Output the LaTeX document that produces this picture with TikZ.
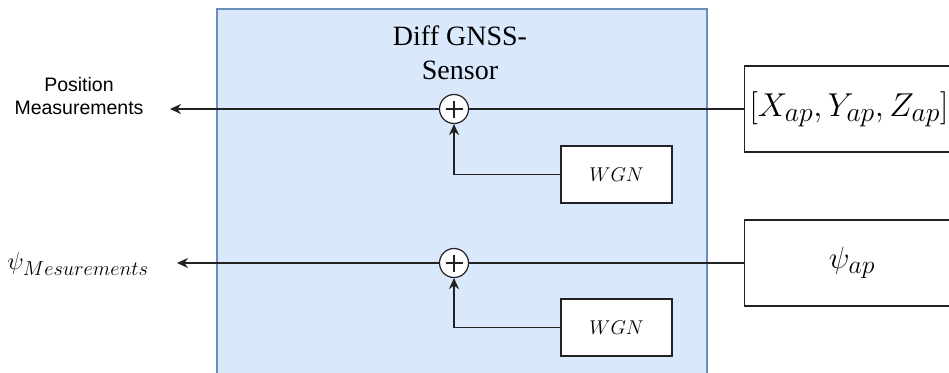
\documentclass[tikz,border=0pt]{standalone}
\usepackage{fontspec}
\setmainfont{Liberation Serif}
\newfontfamily\labelsans{Liberation Sans}
\usetikzlibrary{arrows.meta}
\definecolor{sensorfill}{HTML}{DAE8FC}
\definecolor{sensordraw}{HTML}{6C8EBF}
\definecolor{wire}{HTML}{222222}
\tikzset{
  wirestyle/.style={draw=wire, line width=1.2pt},
  sig/.style={wirestyle, -{Stealth[length=11pt,width=10pt,inset=3.5pt]}},
  blockbox/.style={draw=wire, line width=1.2pt, fill=white, inner sep=0pt},
  sumnode/.style={circle, draw=wire, line width=1.2pt, fill=white, minimum size=29pt, inner sep=0pt},
  bigmath/.style={font=\fontsize{24.88}{30}\selectfont},
}
\begin{document}
\begin{tikzpicture}[x=1pt,y=-1pt]
\useasboundingbox (0,0) rectangle (949,372);
% sensor enclosure
\fill[sensorfill, draw=sensordraw, line width=1.2pt] (217,9) rectangle (707,385);
\node[align=center, font=\fontsize{28}{34}\selectfont] (title) at (460,53) {Diff GNSS-\\Sensor};

% source blocks on the right
\node[blockbox, minimum width=220pt, minimum height=86pt, anchor=west] (pos) at (744,109) {};
\node[bigmath, scale=1.33] (poslbl) at (849,109) {$[X_{ap},Y_{ap},Z_{ap}]$};
\node[blockbox, minimum width=220pt, minimum height=86pt, anchor=west] (psi) at (744,263) {};
\node[bigmath, scale=1.24] (psilbl) at (852,263) {$\psi_{ap}$};

% summing junctions
\node[sumnode] (sum1) at (454,109) {};
\draw[wirestyle] (sum1.center) ++(-8.5,0) -- ++(17,0) (sum1.center) ++(0,-8.5) -- ++(0,17);
\node[sumnode] (sum2) at (454,263) {};
\draw[wirestyle] (sum2.center) ++(-8.5,0) -- ++(17,0) (sum2.center) ++(0,-8.5) -- ++(0,17);

% noise sources
\node[blockbox, minimum width=111pt, minimum height=57pt] (wgn1) at (616.5,174.5) {};
\node[font=\fontsize{20.74}{25}\selectfont, scale=0.96] (wgn1lbl) at (616.5,174.5) {$WGN$};
\node[blockbox, minimum width=111pt, minimum height=57pt] (wgn2) at (616.5,327.5) {};
\node[font=\fontsize{20.74}{25}\selectfont, scale=0.96] (wgn2lbl) at (616.5,327.5) {$WGN$};

% outputs
\node[align=center, font=\labelsans\fontsize{19.5}{23.5}\selectfont] (posout) at (79,96) {Position\\Measurements};
\node[bigmath, scale=0.98] (psiout) at (78,264) {$\psi_{Mesurements}$};
\coordinate (tip1) at (170,109);
\coordinate (tip2) at (177,263);

% wiring
\draw[wirestyle] (pos.west) -- (sum1.east);
\draw[sig] (sum1.west) -- (tip1);
\draw[sig] (wgn1.west) -| (sum1.south);
\draw[wirestyle] (psi.west) -- (sum2.east);
\draw[sig] (sum2.west) -- (tip2);
\draw[sig] (wgn2.west) -| (sum2.south);
\end{tikzpicture}
\end{document}
